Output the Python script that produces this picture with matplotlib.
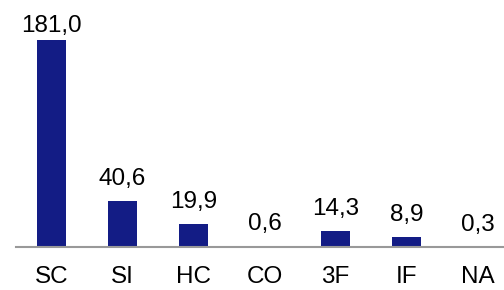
import matplotlib
matplotlib.use("Agg")
import matplotlib.pyplot as plt

# Data to plot
categories = ['SC', 'SI', 'HC', 'CO', '3F', 'IF', 'NA']
values = [181.0, 40.6, 19.9, 0.6, 14.3, 8.9, 0.3]
labels = ['181,0', '40,6', '19,9', '0,6', '14,3', '8,9', '0,3']

plt.rcParams['font.family'] = ['Liberation Sans', 'DejaVu Sans']

fig = plt.figure(figsize=(5.04, 2.90), dpi=100)
ax = fig.add_axes([16/504, 43/290, 488/504, 247/290])

x = range(len(categories))
ax.bar(x, values, width=0.4, color='#131c85')

for i in x:
    ypos = min(values[i] + 14, 188)
    ax.text(i, ypos, labels[i], ha='center', va='baseline', fontsize=17.5)

ax.set_xlim(-0.5, 6.37)
ax.set_ylim(0, 216)
ax.set_xticks(list(x))
ax.set_xticklabels(categories, fontsize=17.5)
ax.tick_params(axis='x', length=0, pad=14)
ax.set_yticks([])
for s in ['top', 'right', 'left']:
    ax.spines[s].set_visible(False)
ax.spines['bottom'].set_color('#999999')
ax.spines['bottom'].set_linewidth(1.5)

fig.savefig('out.png', dpi=100)
